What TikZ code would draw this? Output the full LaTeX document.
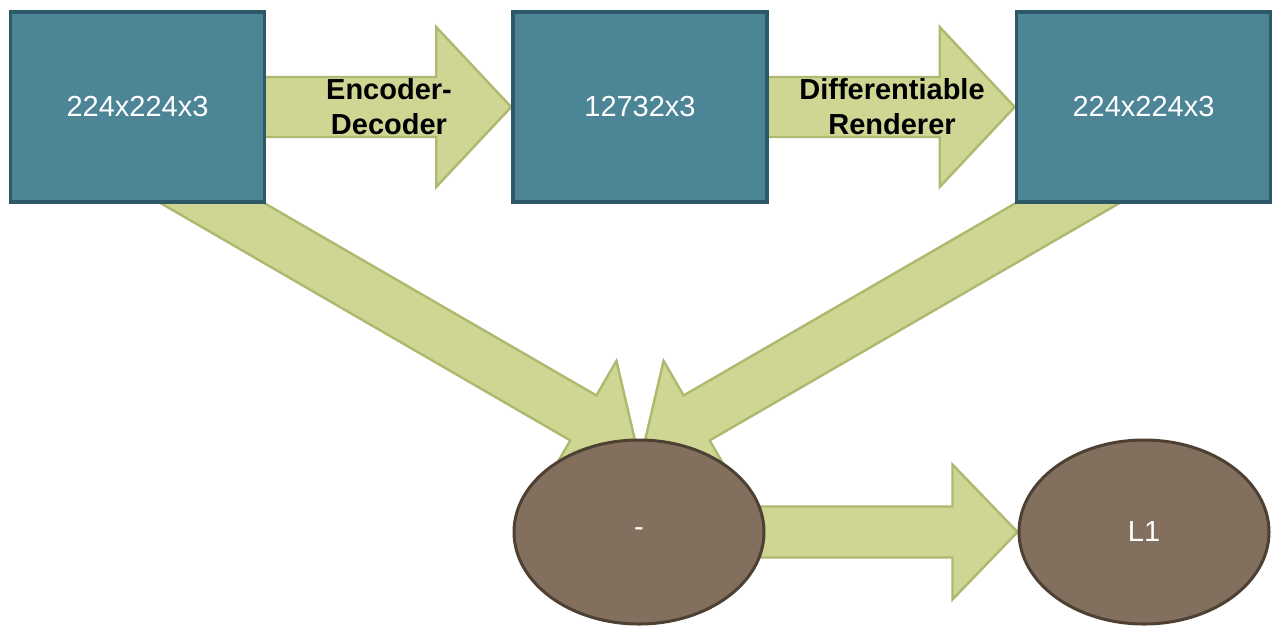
\documentclass[tikz,border=0pt]{standalone}
\usepackage{fontspec}
\setmainfont{Liberation Sans}
\usetikzlibrary{shapes.geometric,calc}
\pgfdeclarelayer{bg}
\pgfsetlayers{bg,main}
\definecolor{boxfill}{HTML}{4B8596}
\definecolor{boxline}{HTML}{2D5868}
\definecolor{arrfill}{HTML}{CFD694}
\definecolor{arrline}{HTML}{AEB96F}
\definecolor{ellfill}{HTML}{836F5E}
\definecolor{ellline}{HTML}{4E4033}
% #1 start, #2 tip, #3 shaft half width, #4 head half width, #5 head length
\newcommand\fatarrow[5]{%
  \coordinate (hb) at ($(#2)!#5!(#1)$);
  \path[fatarrowstyle] ($(#1)!#3!90:(#2)$) -- ($(hb)!#3!90:(#2)$) -- ($(hb)!#4!90:(#2)$) -- (#2)
    -- ($(hb)!#4!-90:(#2)$) -- ($(hb)!#3!-90:(#2)$) -- ($(#1)!#3!-90:(#2)$) -- cycle;
}
\begin{document}
\begin{tikzpicture}[x=0.5pt,y=-0.5pt,
  databox/.style={draw=boxline, fill=boxfill, line width=1.8pt, minimum width=127pt, minimum height=95pt,
    inner sep=0pt, text=white, font=\fontsize{14.5}{17}\selectfont},
  opnode/.style={ellipse, draw=ellline, fill=ellfill, line width=1.5pt, minimum width=125pt, minimum height=92pt,
    inner sep=0pt, text=white, font=\fontsize{14.5}{17}\selectfont},
  fatarrowstyle/.style={fill=arrfill, draw=arrline, line width=1.2pt, line join=miter},
  arrlabel/.style={align=center, font=\bfseries\fontsize{14.5}{17.5}\selectfont, text=black, inner sep=0pt}]
\useasboundingbox (0,0) rectangle (1272,627);

\node[databox] (b1) at (137.5,107) {224x224x3};
\node[databox] (b2) at (640,107) {12732x3};
\node[databox] (b3) at (1143.5,107) {224x224x3};
\node[opnode] (e1) at (639,532) {-};
\node[opnode] (e2) at (1144,532) {L1};

\coordinate (a1s) at (255,107);
\coordinate (a2s) at (760,107);
\coordinate (a3s) at (755,532);
\coordinate (d1s) at (138,160);
\coordinate (d1t) at (637,449);
\coordinate (d2s) at (1142,160);
\coordinate (d2t) at (643,449);

\begin{pgfonlayer}{bg}
  \fatarrow{a1s}{b2.west}{15pt}{40pt}{37.5pt}
  \fatarrow{a2s}{b3.west}{15pt}{40pt}{37.5pt}
  \fatarrow{a3s}{e2.west}{12.75pt}{33.75pt}{32.5pt}
  \fatarrow{d1s}{d1t}{13pt}{33pt}{31pt}
  \fatarrow{d2s}{d2t}{13pt}{33pt}{31pt}
\end{pgfonlayer}

\node[arrlabel] (l1) at (389,107) {Encoder-\\Decoder};
\node[arrlabel] (l2) at (892,107) {Differentiable\\Renderer};
\end{tikzpicture}
\end{document}
